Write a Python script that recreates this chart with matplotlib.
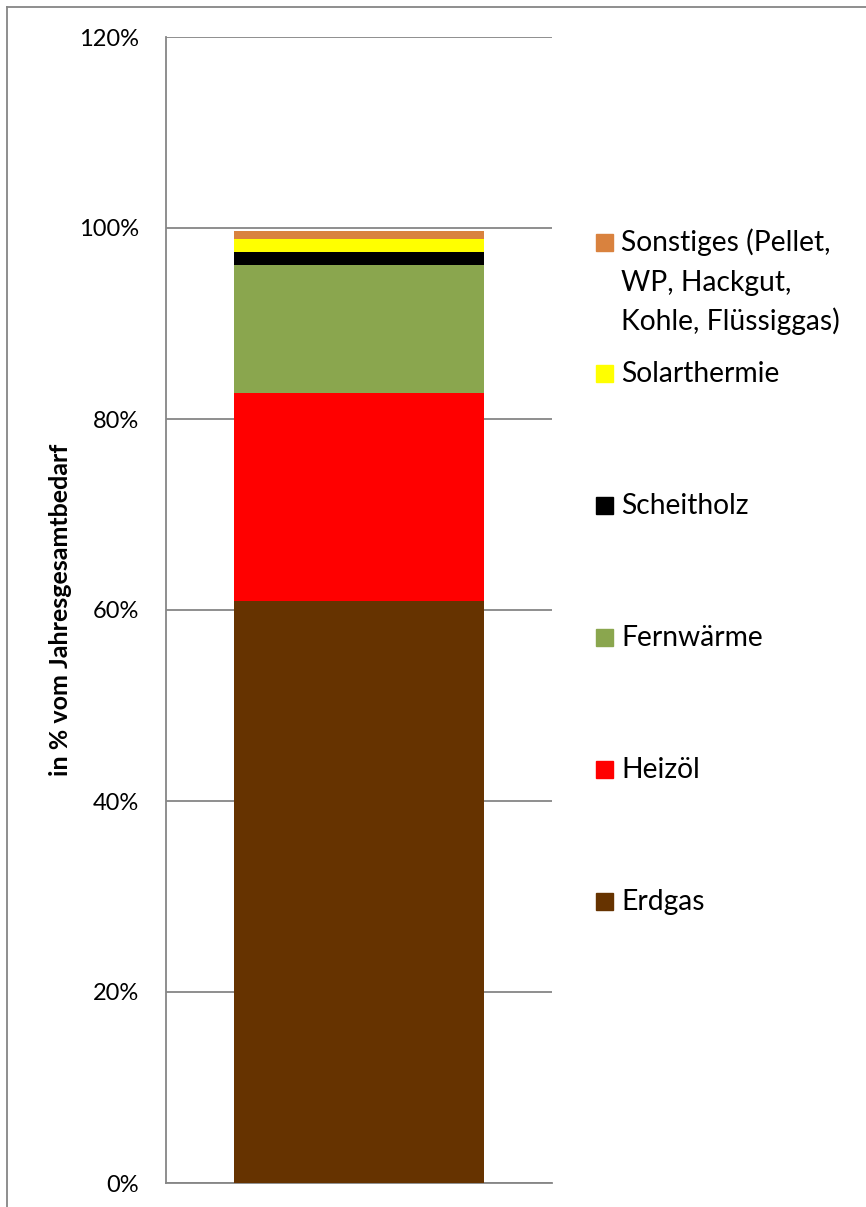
import matplotlib
matplotlib.use("Agg")
import matplotlib.pyplot as plt
from matplotlib.patches import Rectangle
from matplotlib.lines import Line2D

plt.rcParams["font.family"] = ["Lato", "DejaVu Sans"]

# Share of annual total demand (%), bottom to top
categories = ["Erdgas", "Heizöl", "Fernwärme", "Scheitholz", "Solarthermie",
              "Sonstiges (Pellet,\nWP, Hackgut,\nKohle, Flüssiggas)"]
values = [60.9, 21.8, 13.4, 1.4, 1.3, 0.9]
colors = ["#663300", "#ff0000", "#8aa64e", "#000000", "#ffff00", "#d9823e"]
yticks = [0, 20, 40, 60, 80, 100, 120]

W, H = 866, 1207
fig = plt.figure(figsize=(W / 100, H / 100), dpi=100)
ax = fig.add_axes([166 / W, 24 / H, 386 / W, 1146 / H])

GRID = "#868686"
bottom = 0
for cat, val, col in zip(categories, values, colors):
    ax.bar(0, val, width=0.65, bottom=bottom, color=col, zorder=3)
    bottom += val

ax.set_xlim(-0.5, 0.5)
ax.set_ylim(0, 120)
ax.set_yticks(yticks)
ax.set_yticklabels([f"{t}%" for t in yticks], fontsize=17)
ax.set_xticks([])
ax.tick_params(axis="y", length=0, pad=19.5)
ax.yaxis.grid(True, color=GRID, linewidth=1.3, zorder=0)
for s in ["top", "right"]:
    ax.spines[s].set_visible(False)
for s in ["left", "bottom"]:
    ax.spines[s].set_color(GRID)
    ax.spines[s].set_linewidth(1.3)

ax.set_ylabel("in % vom Jahresgesamtbedarf", fontsize=18, fontweight="bold")
ax.yaxis.label.set_va("center")
ax.yaxis.set_label_coords((60 - 166) / 386, 0.5)

# manual legend, entries listed top to bottom (baseline pixel of first line)
legend_base = [251, 382, 514, 645.5, 778, 910]
line_step = 39.5
for (cat, col), base in zip(reversed(list(zip(categories, colors))), legend_base):
    fig.patches.append(Rectangle((596 / W, 1 - base / H), 17 / W, 17 / H,
                                 transform=fig.transFigure, color=col))
    for i, line in enumerate(cat.split("\n")):
        fig.text(621 / W, 1 - (base + i * line_step) / H, line, fontsize=20.3,
                 va="baseline", ha="left")

# chart area border (left and top visible)
fig.add_artist(Line2D([7 / W, 7 / W], [0, 1 - 7 / H], transform=fig.transFigure,
                      color=GRID, linewidth=1.3))
fig.add_artist(Line2D([7 / W, 1], [1 - 7 / H, 1 - 7 / H], transform=fig.transFigure,
                      color=GRID, linewidth=1.3))

fig.savefig("out.png", dpi=100)
